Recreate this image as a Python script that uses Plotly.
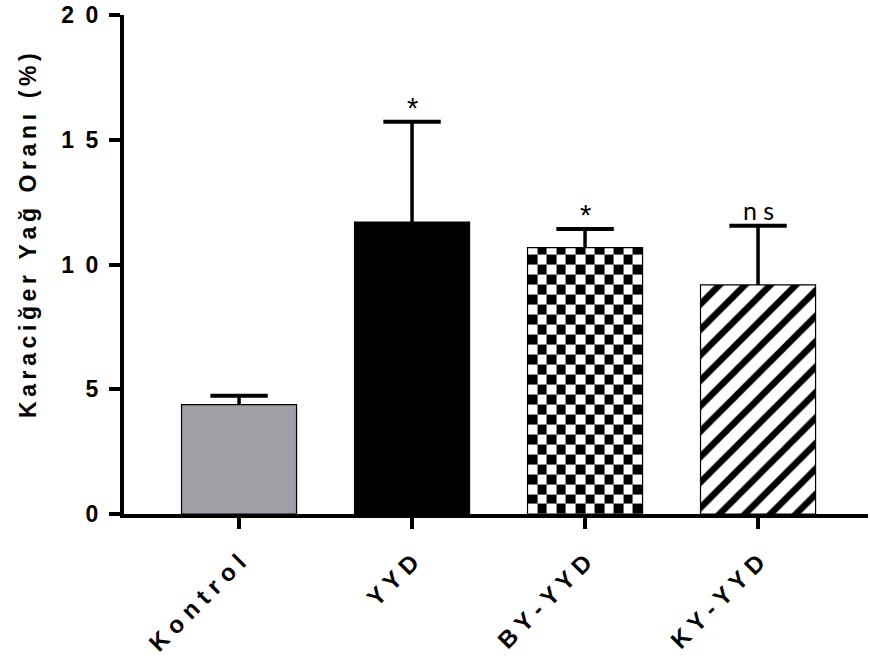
import numpy as np
import plotly.graph_objects as go

# ---- data ----
categories = ["Kontrol", "YYD", "BY-YYD", "KY-YYD"]
means = [4.38, 11.70, 10.68, 9.18]
errors = [0.36, 4.02, 0.74, 2.37]
signif = ["*", "*", "ns"]          # for YYD, BY-YYD, KY-YYD
signif_idx = [1, 2, 3]
y_ticks = [0, 5, 10, 15, 20]
y_tick_labels = ["0", "5", "10", "15", "20"]
y_title = "Karaciğer Yağ Oranı (%)"

# styles per bar
fills = ["#a09fa6", "#000000", "rgba(0,0,0,0)", "#ffffff"]
patterns = ["", "", "", "/"]

EN = "\u2002"
THIN = "\u2009"


def spaced(s, gap, word_gap):
    """Emulate GraphPad's wide letter spacing."""
    return word_gap.join(gap.join(w) for w in s.split(" "))


xpos = list(range(len(categories)))
bar_w = 0.665

fig = go.Figure()

# checkerboard texture for BY-YYD (heatmap under a transparent outlined bar)
ci = 2
nx = 12
x_edges = np.linspace(xpos[ci] - bar_w / 2, xpos[ci] + bar_w / 2, nx + 1)
y_edges = list(np.arange(0, means[ci], 0.4))
y_edges.append(means[ci])
ny = len(y_edges) - 1
z = [[(i + j) % 2 for j in range(nx)] for i in range(ny)]
fig.add_trace(go.Heatmap(
    x=x_edges, y=y_edges, z=z,
    colorscale=[[0, "white"], [1, "black"]],
    showscale=False, zsmooth=False, hoverinfo="skip",
))

for i in range(len(categories)):
    marker = dict(color=fills[i], line=dict(color="black", width=1.2))
    if patterns[i]:
        marker["pattern"] = dict(shape=patterns[i], fgcolor="black",
                                 bgcolor="white", size=18, solidity=0.36,
                                 fillmode="replace")
    fig.add_trace(go.Bar(x=[xpos[i]], y=[means[i]], width=bar_w,
                         marker=marker, hoverinfo="skip"))

tops = [m + e for m, e in zip(means, errors)]
fig.add_trace(go.Scatter(
    x=xpos, y=tops, mode="markers",
    marker=dict(symbol="line-ew", size=41,
                line=dict(color="black", width=4)),
    error_y=dict(type="data", symmetric=False, array=[0] * len(errors),
                 arrayminus=errors, width=0, thickness=3.5, color="black"),
    hoverinfo="skip",
))

for k, idx in enumerate(signif_idx):
    star = signif[k] == "*"
    fig.add_annotation(
        x=xpos[idx], y=tops[idx], text=(signif[k] if star else " ".join(signif[k])),
        showarrow=False, yanchor="bottom", yshift=(-4 if star else -1),
        font=dict(family=("Liberation Sans" if star else "Lato"),
                  size=(29 if star else 25), color="black"),
    )

# y-axis title (GraphPad places it slightly above the axis centre)
fig.add_annotation(
    text=spaced(y_title, THIN, THIN + " " + THIN), textangle=-90, showarrow=False,
    xref="paper", yref="paper", x=(28 - 124) / 744, y=(514 - 236) / 499,
    xanchor="center", yanchor="middle",
    font=dict(family="Liberation Sans", size=23, color="black", weight="bold"),
)

fig.update_layout(
    width=870, height=659,
    margin=dict(l=124, r=2, t=15, b=145),
    paper_bgcolor="white", plot_bgcolor="white",
    showlegend=False, barmode="overlay",
    font=dict(family="Liberation Sans", color="black"),
)
fig.update_xaxes(
    range=[-0.665, -0.665 + 744 / 173], automargin=False,
    tickmode="array", tickvals=xpos,
    ticktext=[spaced(c, " ", "  ") for c in categories],
    tickangle=-45, ticks="outside", ticklen=11, tickwidth=4,
    tickcolor="black", showline=True, linecolor="black", linewidth=4,
    showgrid=False, zeroline=False, ticklabelstandoff=10,
    tickfont=dict(family="Liberation Sans", size=24, color="black", weight="bold"),
)
fig.update_yaxes(
    range=[0, 20], automargin=False, tickmode="array", tickvals=y_ticks,
    ticktext=[spaced(t, EN, EN) for t in y_tick_labels],
    ticks="outside", ticklen=11, tickwidth=4, tickcolor="black",
    showline=True, linecolor="black", linewidth=4,
    showgrid=False, zeroline=False, ticklabelstandoff=6,
    tickfont=dict(family="Liberation Sans", size=23, color="black", weight="bold"),
)

fig.write_html("out.html")
